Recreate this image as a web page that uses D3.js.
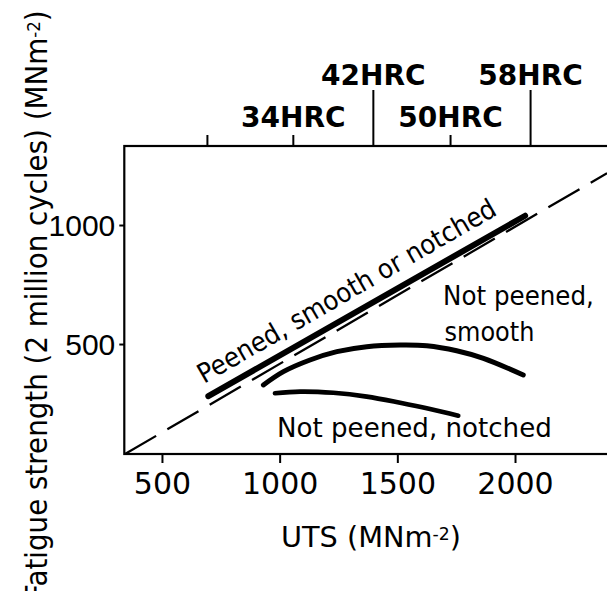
<!DOCTYPE html>
<html>
<head>
<meta charset="utf-8">
<script src="https://cdn.jsdelivr.net/npm/d3@7"></script>
<style>
  body { margin: 0; background: #fff; }
  svg { display: block; }
</style>
</head>
<body>
<div id="chart-area"></div>
<script>
// fatigue strength (2 million cycles) against UTS, peened and not peened

// top scale: hardness marks, placed at their UTS equivalent
const hrcLabels = ["", "34HRC", "42HRC", "50HRC", "58HRC"]
const hrcUTS = [691, 1056, 1396, 1724, 2064]
const hrcLong = [false, false, true, false, true]

const xTicks = [500, 1000, 1500, 2000]
const yTicks = [500, 1000]

// dashed reference line, from the corner out past the frame
const refUTS = [343, 2391]
const refFS = [38, 1218]

// peened, smooth or notched
const peenedUTS = [697, 2043]
const peenedFS = [281, 1039]

// not peened, smooth
const smoothUTS = [931, 1016, 1129, 1243, 1370, 1512, 1625, 1752, 1866, 2035]
const smoothFS = [328, 384, 433, 468, 489, 496, 493, 472, 440, 370]

// not peened, notched
const notchedUTS = [980, 1087, 1228, 1370, 1512, 1639, 1759]
const notchedFS = [293, 300, 295, 279, 253, 227, 199]

const WIDTH = 607
const HEIGHT = 591
const FONT = "'DejaVu Sans', sans-serif"

const svg = d3.select("#chart-area").append("svg")
  .attr("width", WIDTH)
  .attr("height", HEIGHT)
  .attr("font-family", FONT)

const x = d3.scaleLinear().domain([340, 2500]).range([124.3, 632.7])
const y = d3.scaleLinear().domain([38, 1332]).range([454, 146])

const zip = (a, b) => a.map((d, i) => [d, b[i]])

// frame (right side runs off the page)
svg.append("rect")
  .attr("x", x(340))
  .attr("y", y(1332))
  .attr("width", x(2500) - x(340))
  .attr("height", y(38) - y(1332))
  .attr("fill", "none")
  .attr("stroke", "#000")
  .attr("stroke-width", 2.2)

// bottom axis
const xAxisCall = d3.axisBottom(x).tickValues(xTicks).tickFormat(d => d)
  .tickSize(9).tickPadding(10)
const xAxisGroup = svg.append("g")
  .attr("transform", `translate(0, ${y(38)})`)
  .call(xAxisCall)
xAxisGroup.select(".domain").remove()
xAxisGroup.attr("font-size", 30).attr("font-family", FONT)
xAxisGroup.selectAll("line").attr("stroke-width", 2)
xAxisGroup.selectAll("text").attr("fill", "#000")

// left axis
const yAxisCall = d3.axisLeft(y).tickValues(yTicks).tickFormat(d => d)
  .tickSize(5).tickPadding(4)
const yAxisGroup = svg.append("g")
  .attr("transform", `translate(${x(340)}, 0)`)
  .call(yAxisCall)
yAxisGroup.select(".domain").remove()
yAxisGroup.attr("font-size", 30).attr("font-family", "'Liberation Sans', sans-serif")
yAxisGroup.selectAll("line").attr("stroke-width", 2)
yAxisGroup.selectAll("text").attr("fill", "#000").attr("dy", "0.36em")

// top axis: short and long hardness ticks
const hrcName = v => hrcLabels[hrcUTS.indexOf(v)]
const topShort = d3.axisTop(x)
  .tickValues(hrcUTS.filter((d, i) => !hrcLong[i]))
  .tickFormat(hrcName).tickSize(11).tickPadding(8)
const topLong = d3.axisTop(x)
  .tickValues(hrcUTS.filter((d, i) => hrcLong[i]))
  .tickFormat(hrcName).tickSize(56).tickPadding(5)

;[topShort, topLong].forEach(call => {
  const g = svg.append("g")
    .attr("transform", `translate(0, ${y(1332)})`)
    .call(call)
  g.select(".domain").remove()
  g.attr("font-size", 28).attr("font-family", FONT).attr("font-weight", "bold")
  g.selectAll("line").attr("stroke-width", 2)
  g.selectAll("text").attr("fill", "#000")
})

// lines
const line = d3.line()
  .x(d => x(d[0]))
  .y(d => y(d[1]))
  .curve(d3.curveCatmullRom)

svg.append("path")
  .datum(zip(refUTS, refFS))
  .attr("d", line)
  .attr("fill", "none")
  .attr("stroke", "#000")
  .attr("stroke-width", 2.3)
  .attr("stroke-dasharray", "36,13")

svg.append("path")
  .datum(zip(peenedUTS, peenedFS))
  .attr("d", line)
  .attr("fill", "none")
  .attr("stroke", "#000")
  .attr("stroke-width", 6)
  .attr("stroke-linecap", "round")

svg.append("path")
  .datum(zip(smoothUTS, smoothFS))
  .attr("d", line)
  .attr("fill", "none")
  .attr("stroke", "#000")
  .attr("stroke-width", 5)
  .attr("stroke-linecap", "round")

svg.append("path")
  .datum(zip(notchedUTS, notchedFS))
  .attr("d", line)
  .attr("fill", "none")
  .attr("stroke", "#000")
  .attr("stroke-width", 4.6)
  .attr("stroke-linecap", "round")

// text squeezed to the width it has in the figure
function label(fill, px, py, width, size, angle = 0) {
  const g = svg.append("g")
    .attr("transform", `translate(${px}, ${py}) rotate(${angle})`)
  const t = g.append("text")
    .attr("font-size", size)
    .attr("fill", "#000")
  fill(t)
  const w = t.node().getComputedTextLength()
  t.attr("transform", `scale(${width / w}, 1)`)
  return t
}

const unit = (t, main) => {
  t.append("tspan").text(main + " (MNm")
  t.append("tspan").attr("font-size", "0.6em").attr("dy", "-0.4em").text("-2")
  t.append("tspan").attr("dy", "0.24em").text(")")
}

label(t => unit(t, "UTS"), 281, 547, 180, 29)
label(t => unit(t, "Fatigue strength (2 million cycles)"), 47, 600, 590, 30, -90)

label(t => t.text("Peened, smooth or notched"), 204, 384, 340, 27, -30)
label(t => t.text("Not peened,"), 443, 305, 151, 26)
label(t => t.text("smooth"), 444.5, 340.7, 90, 26)
label(t => t.text("Not peened, notched"), 277, 436.7, 275, 27)
</script>
</body>
</html>
